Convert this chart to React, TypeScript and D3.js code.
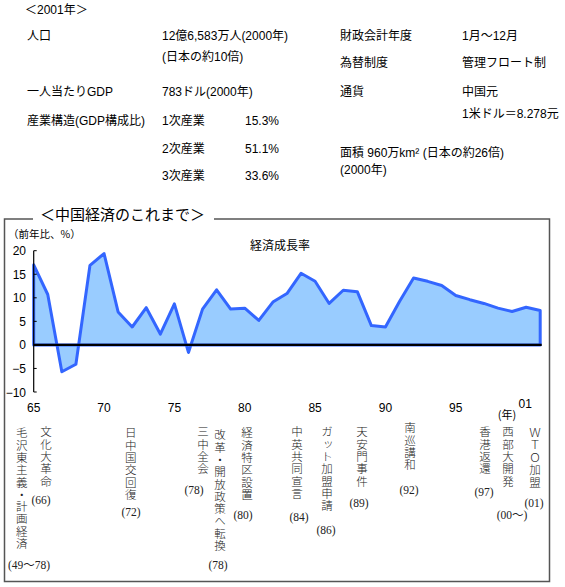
import React from "react";
import * as d3 from "d3";

// ---- data ----
const years = [1965,1966,1967,1968,1969,1970,1971,1972,1973,1974,1975,1976,1977,1978,1979,1980,1981,1982,1983,1984,1985,1986,1987,1988,1989,1990,1991,1992,1993,1994,1995,1996,1997,1998,1999,2000,2001];
const growth = [17.0,10.7,-5.7,-4.1,16.9,19.4,7.0,3.8,7.9,2.3,8.7,-1.6,7.6,11.7,7.6,7.8,5.2,9.1,10.9,15.2,13.5,8.8,11.6,11.3,4.1,3.8,9.2,14.2,13.5,12.6,10.5,9.6,8.8,7.8,7.1,8.0,7.3];
const yTicks = [20, 15, 10, 5, 0, -5, -10];
const xTickYears = [1965, 1970, 1975, 1980, 1985, 1990, 1995];
const xTickLabels = ["65", "70", "75", "80", "85", "90", "95"];
const lastTickLabel = "01";

const infoTitle = "＜2001年＞";
const infoLeftLabels = ["人口", "一人当たりGDP", "産業構造(GDP構成比)"];
const infoLeftValues = ["12億6,583万人(2000年)", "(日本の約10倍)", "783ドル(2000年)"];
const industries = ["1次産業", "2次産業", "3次産業"];
const industryShares = ["15.3%", "51.1%", "33.6%"];
const infoRightLabels = ["財政会計年度", "為替制度", "通貨"];
const infoRightValues = ["1月～12月", "管理フロート制", "中国元", "1米ドル＝8.278元"];
const areaLines = ["面積 960万km² (日本の約26倍)", "(2000年)"];

const chartTitle = "＜中国経済のこれまで＞";
const unitLabel = "（前年比、%）";
const seriesName = "経済成長率";
const yearUnit = "(年)";

const eventLabels = ["毛沢東主義・計画経済","文化大革命","日中国交回復","三中全会","改革・開放政策へ転換","経済特区設置","中英共同宣言","ガット加盟申請","天安門事件","南巡講和","香港返還","西部大開発","ＷＴＯ加盟"];
const eventYears = ["(49～78)","(66)","(72)","(78)","(78)","(80)","(84)","(86)","(89)","(92)","(97)","(00～)","(01)"];

// ---- layout ----
const W = 565, H = 587;
const sans = "'Liberation Sans', 'Noto Sans CJK JP', sans-serif";
const jp = "'Noto Sans CJK JP', sans-serif";
const serif = "'Liberation Serif', 'Noto Sans CJK JP', serif";

const evColX = [21.7, 46, 130.7, 203, 220, 247, 297, 327, 362, 410, 485, 508, 535];
const evTop = [433, 432, 433, 432, 435, 433, 432, 432, 432, 428, 432, 432, 433];
const evYearX = [29, 41, 131, 194, 218, 243, 299, 326, 359, 409, 484, 512, 534];
const evYearY = [565, 500, 512, 490, 565, 515, 517, 530, 503, 490, 492, 515, 503];
const evFont = 11.5;
const charStep = 12.3;

export default function App() {
  const x = d3.scaleLinear().domain([1965, 2001]).range([33.7, 540.2]);
  const y = d3.scaleLinear().domain([-10, 20]).range([392, 250.7]);
  const pts = years.map((yr, i) => [yr, growth[i]] as [number, number]);
  const area = d3.area<[number, number]>().x(d => x(d[0])).y0(y(0)).y1(d => y(d[1]))(pts) || "";

  const frameColor = "#555";
  const top = 219, left = 4.5, right = 549.5, bottom = 581.5;

  return (
    <svg width={W} height={H} style={{ position: "absolute", left: 0, top: 0, background: "#fff" }}>
      {/* info block */}
      <g fontFamily={sans} fontSize={12} fill="#000">
        <text x={25} y={14}>{infoTitle}</text>
        <text x={27} y={40}>{infoLeftLabels[0]}</text>
        <text x={162} y={40}>{infoLeftValues[0]}</text>
        <text x={162} y={61}>{infoLeftValues[1]}</text>
        <text x={27} y={96}>{infoLeftLabels[1]}</text>
        <text x={162} y={96}>{infoLeftValues[2]}</text>
        <text x={27} y={125}>{infoLeftLabels[2]}</text>
        {industries.map((s, i) => (
          <g key={s}>
            <text x={162} y={125 + i * 27.5}>{s}</text>
            <text x={245} y={125 + i * 27.5}>{industryShares[i]}</text>
          </g>
        ))}
        <text x={340} y={40}>{infoRightLabels[0]}</text>
        <text x={462} y={40}>{infoRightValues[0]}</text>
        <text x={340} y={67}>{infoRightLabels[1]}</text>
        <text x={462} y={67}>{infoRightValues[1]}</text>
        <text x={340} y={96}>{infoRightLabels[2]}</text>
        <text x={462} y={96}>{infoRightValues[2]}</text>
        <text x={462} y={118}>{infoRightValues[3]}</text>
        <text x={340} y={157}>{areaLines[0]}</text>
        <text x={340} y={174}>{areaLines[1]}</text>
      </g>

      {/* frame */}
      <path d={`M33,${top} H${left} V${bottom} H${right} V${top} H214`} fill="none" stroke={frameColor} strokeWidth={1.5} />
      <text x={40} y={220} fontFamily={jp} fontSize={15} fill="#000">{chartTitle}</text>
      <text x={8} y={238} fontFamily={jp} fontSize={10.5} fill="#000">{unitLabel}</text>
      <text x={250} y={250} fontFamily={jp} fontSize={12} fill="#000">{seriesName}</text>

      {/* series */}
      <path d={area} fill="#99CCFF" stroke="#3366FF" strokeWidth={3} strokeLinejoin="round" />
      <line x1={x(1965)} x2={x(2001) + 1.5} y1={y(0)} y2={y(0)} stroke="#000" strokeWidth={2.2} />

      {/* y axis */}
      <line x1={x(1965)} x2={x(1965)} y1={y(20)} y2={y(-10)} stroke="#000" strokeWidth={1.2} />
      {yTicks.map(t => (
        <g key={t}>
          <line x1={x(1965)} x2={x(1965) + 3} y1={y(t)} y2={y(t)} stroke="#000" strokeWidth={1} />
          <text x={26} y={y(t) + 4.5} textAnchor="end" fontFamily={sans} fontSize={12}>{t < 0 ? "−" + Math.abs(t) : t}</text>
        </g>
      ))}

      {/* x labels */}
      {xTickYears.map((yr, i) => (
        <text key={yr} x={x(yr)} y={411.5} textAnchor="middle" fontFamily={sans} fontSize={12}>{xTickLabels[i]}</text>
      ))}
      <text x={x(2001) - 15} y={408} textAnchor="middle" fontFamily={sans} fontSize={12}>{lastTickLabel}</text>
      <text x={507} y={419} textAnchor="middle" fontFamily={jp} fontSize={11}>{yearUnit}</text>

      {/* events (vertical text) */}
      <g fill="#222" fontFamily={jp} fontSize={evFont} fontWeight={300}>
        {eventLabels.map((lab, i) => (
          <text key={i} x={evColX[i]} y={evTop[i] - evFont / 2}
            style={{ writingMode: "vertical-rl", textOrientation: "upright", letterSpacing: `${charStep - evFont}px` } as any}>
            {lab}
          </text>
        ))}
      </g>
      <g fill="#222" fontFamily={serif} fontSize={11.5}>
        {eventYears.map((t, i) => (
          <text key={i} x={evYearX[i]} y={evYearY[i] + 4} textAnchor="middle">{t}</text>
        ))}
      </g>
    </svg>
  );
}
